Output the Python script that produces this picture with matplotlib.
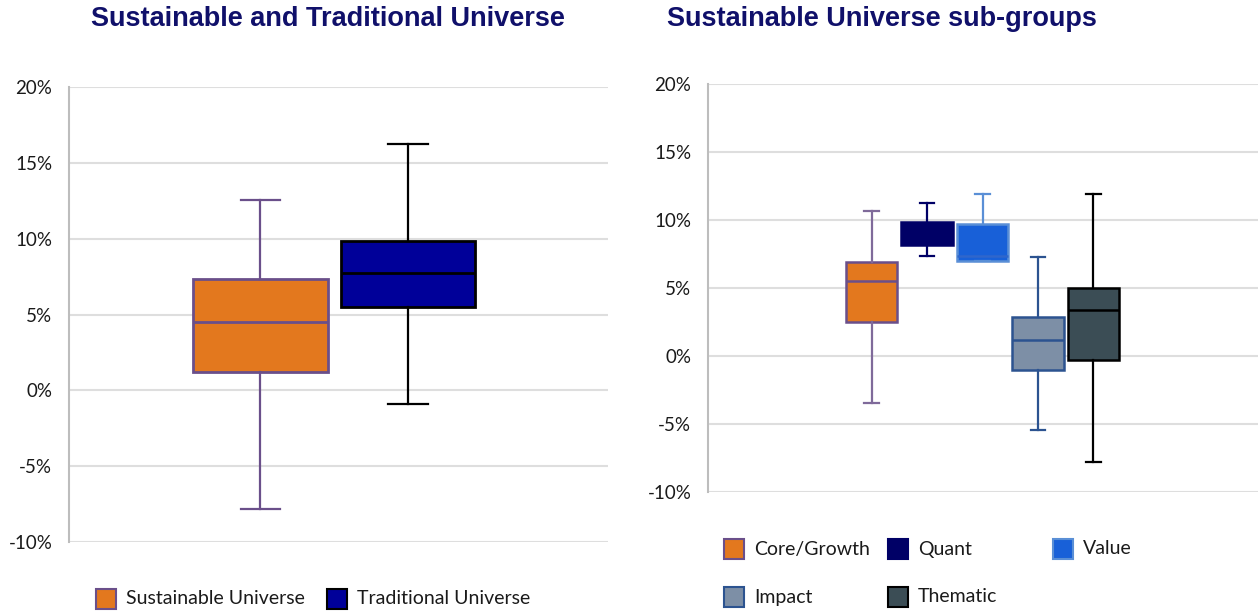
"""Box-and-whisker comparison of sustainable vs traditional fund returns."""

import matplotlib

matplotlib.use("Agg")
import matplotlib.pyplot as plt
from matplotlib.patches import Rectangle
from matplotlib.ticker import FuncFormatter, MultipleLocator

W, H = 1258, 612

# Left panel: whole universes (annual return, %)
universe_labels = ["Sustainable Universe", "Traditional Universe"]
universe_whislo = [-7.85, -0.92]
universe_q1 = [1.18, 5.49]
universe_med = [4.48, 7.72]
universe_q3 = [7.33, 9.84]
universe_whishi = [12.55, 16.25]

# Right panel: sustainable sub-groups (annual return, %)
group_labels = ["Core/Growth", "Quant", "Value", "Impact", "Thematic"]
group_whislo = [-3.43, 7.33, 6.99, -5.42, -7.82]
group_q1 = [2.48, 8.19, 6.99, -1.06, -0.31]
group_med = [5.48, 9.0, 7.32, 1.2, 3.38]
group_q3 = [6.93, 9.85, 9.68, 2.86, 5.0]
group_whishi = [10.64, 11.25, 11.89, 7.27, 11.94]

# face, edge, median, whisker colour for each box
universe_styles = [
    ("#E3781E", "#6A4F8A", "#6A4F8A", "#6A4F8A"),
    ("#000099", "#000000", "#000000", "#000000"),
]
group_styles = [
    ("#E3781E", "#6A4F8A", "#6A4F8A", "#7F6A9A"),
    ("#000066", "#000066", "#000066", "#000066"),
    ("#1860D8", "#5A8FD6", "#2F66CC", "#5A8FD6"),
    ("#7D8FA6", "#2C5390", "#2C5390", "#2C5390"),
    ("#3B4D55", "#000000", "#000000", "#000000"),
]

TITLE_COLOR = "#10106A"
GRID_COLOR = "#DEDEDE"
TEXT_FONT = ["Lato", "DejaVu Sans"]


def build_stats(labels, whislo, q1, med, q3, whishi):
    return [
        {"label": lab, "whislo": lo, "q1": a, "med": m, "q3": b, "whishi": hi, "fliers": []}
        for lab, lo, a, m, b, hi in zip(labels, whislo, q1, med, q3, whishi)
    ]


def draw_boxes(ax, stats, styles, width, cap_width, edge_lw):
    parts = ax.bxp(
        stats,
        positions=range(1, len(stats) + 1),
        widths=width,
        capwidths=cap_width,
        patch_artist=True,
        showfliers=False,
    )
    for i, (face, edge, median, whisk) in enumerate(styles):
        box = parts["boxes"][i]
        box.set_facecolor(face)
        box.set_edgecolor(edge)
        box.set_linewidth(edge_lw)
        parts["medians"][i].set_color(median)
        parts["medians"][i].set_linewidth(edge_lw)
        for line in parts["whiskers"][2 * i:2 * i + 2] + parts["caps"][2 * i:2 * i + 2]:
            line.set_color(whisk)
            line.set_linewidth(1.6)


def style_axis(ax, xlim):
    ax.set_xlim(*xlim)
    ax.set_ylim(-10, 20)
    ax.yaxis.set_major_locator(MultipleLocator(5))
    ax.yaxis.set_major_formatter(FuncFormatter(lambda v, _: f"{v:.0f}%"))
    ax.grid(axis="y", color=GRID_COLOR, linewidth=1.5, zorder=0)
    ax.set_axisbelow(True)
    for side in ("top", "right", "bottom"):
        ax.spines[side].set_visible(False)
    ax.spines["left"].set_color("#BDBDBD")
    ax.spines["left"].set_linewidth(1.5)
    ax.set_xticks([])
    ax.tick_params(axis="y", length=0, pad=12, labelsize=13.5, labelcolor="#1A1A1A")
    for lab in ax.get_yticklabels():
        lab.set_family(TEXT_FONT)


def legend_item(fig, x, y, face, edge, label):
    fig.patches.append(
        Rectangle(
            (x / W, 1 - (y + 10) / H),
            20 / W,
            20 / H,
            transform=fig.transFigure,
            facecolor=face,
            edgecolor=edge,
            linewidth=1.5,
        )
    )
    fig.text((x + 30) / W, 1 - y / H, label, ha="left", va="center",
             fontsize=14, family=TEXT_FONT, color="#1A1A1A")


def main() -> None:
    fig = plt.figure(figsize=(W / 100, H / 100), dpi=100)

    ax_left = fig.add_axes([69 / W, 1 - 542 / H, (608 - 69) / W, (542 - 87) / H])
    ax_right = fig.add_axes([708 / W, 1 - 492 / H, (1258 - 708) / W, (492 - 84) / H])

    universe_stats = build_stats(universe_labels, universe_whislo, universe_q1,
                                 universe_med, universe_q3, universe_whishi)
    group_stats = build_stats(group_labels, group_whislo, group_q1,
                              group_med, group_q3, group_whishi)

    draw_boxes(ax_left, universe_stats, universe_styles, 0.91, 0.265, 2.0)
    draw_boxes(ax_right, group_stats, group_styles, 0.92, 0.27, 1.8)
    style_axis(ax_left, (-0.298, 3.356))
    style_axis(ax_right, (-1.946, 7.964))

    fig.text(328 / W, 1 - 19 / H, "Sustainable and Traditional Universe",
             ha="center", va="center", fontsize=19.5, fontweight="bold",
             family="Liberation Sans", color=TITLE_COLOR)
    fig.text(882 / W, 1 - 19 / H, "Sustainable Universe sub-groups",
             ha="center", va="center", fontsize=19.5, fontweight="bold",
             family="Liberation Sans", color=TITLE_COLOR)

    # legends
    left_x = [96, 327]
    for x, lab, style in zip(left_x, universe_labels, universe_styles):
        legend_item(fig, x, 599, style[0], style[1], lab)

    right_pos = [(724, 549), (888, 549), (1053, 549), (724, 597), (888, 597)]
    for (x, y), lab, style in zip(right_pos, group_labels, group_styles):
        legend_item(fig, x, y, style[0], style[1], lab)

    fig.savefig("out.png", dpi=100)
    plt.close(fig)


if __name__ == "__main__":
    main()
